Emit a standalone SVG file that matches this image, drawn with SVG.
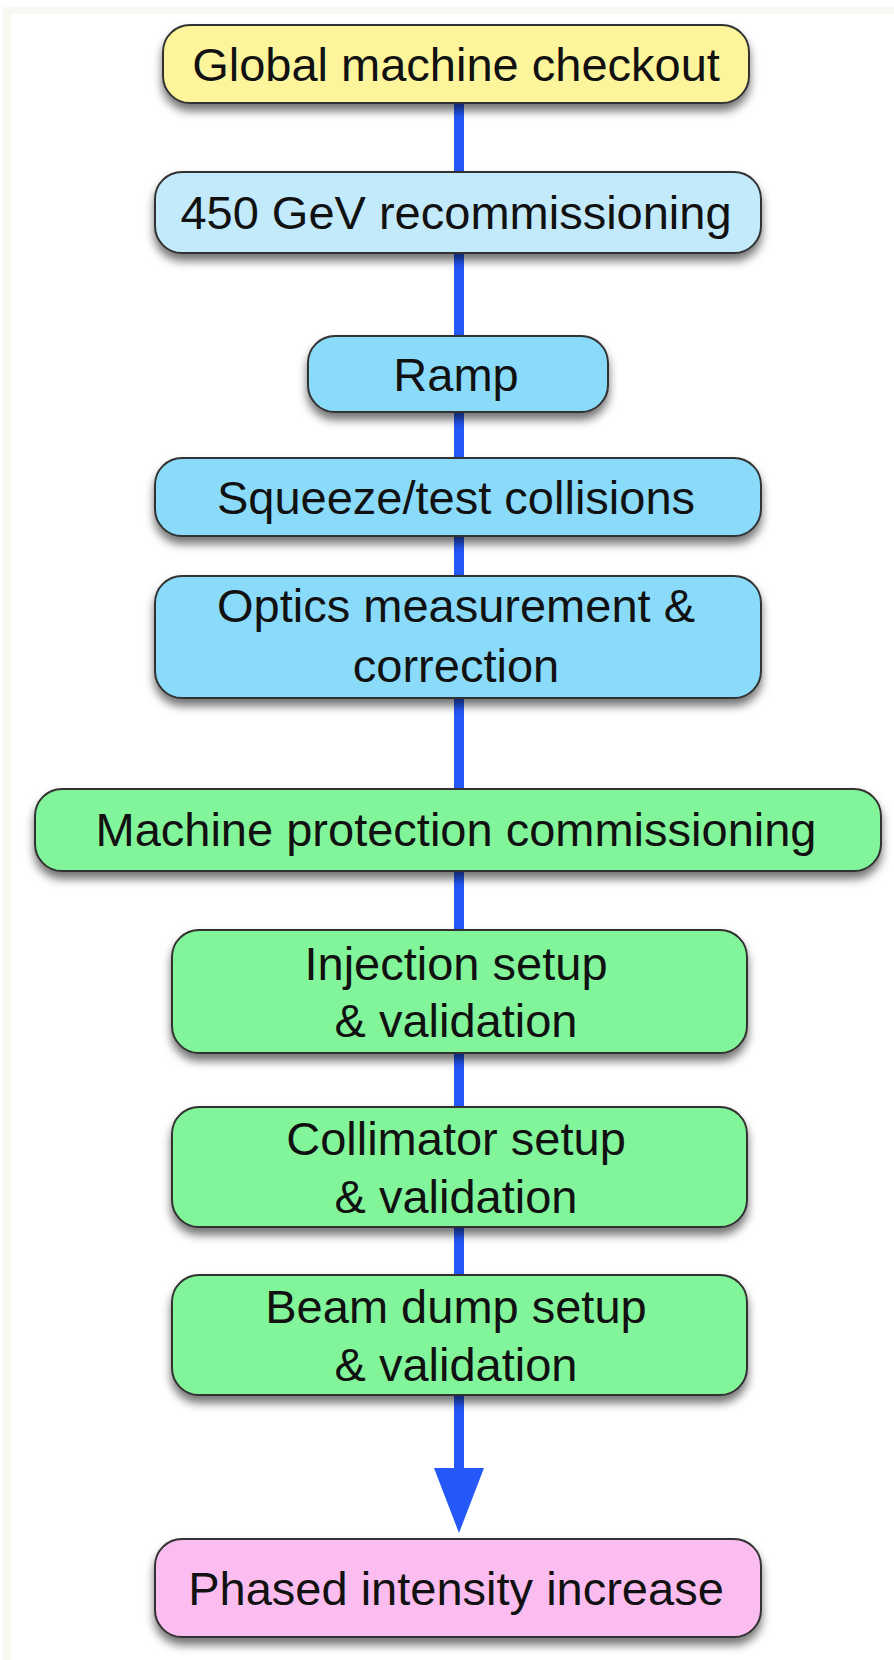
<svg xmlns="http://www.w3.org/2000/svg" width="894" height="1660" viewBox="0 0 894 1660">
<style>
.box{stroke:#333;stroke-width:2;filter:url(#sh)}
.t{font-family:"Liberation Sans",Arial,Helvetica,sans-serif;font-size:47px;fill:#111;text-anchor:middle}
.ln{stroke:#2458f8;stroke-width:10;fill:none}
.yel{fill:#fdf59c}
.lb{fill:#c2eafa}
.bl{fill:#8adbfa}
.gr{fill:#82f59a}
.pk{fill:#fbbdf0}
</style>
<defs>
<filter id="sh" x="-10%" y="-20%" width="120%" height="160%">
<feDropShadow dx="0" dy="7" stdDeviation="5" flood-color="#000" flood-opacity="0.55"/>
</filter>
<marker id="ah" markerUnits="userSpaceOnUse" markerWidth="52" markerHeight="66" refX="26" refY="64" orient="auto-start-reverse" viewBox="0 0 52 66">
<path d="M1,0 L51,0 L26,65 Z" fill="#2458f8"/>
</marker>
</defs>
<rect x="0" y="0" width="894" height="1660" fill="#ffffff"/>
<path d="M3,7 H894 V14 H11 V1660 H3 Z" fill="#f8f8f3"/>
<g id="connectors">
<line class="ln" x1="459" y1="103" x2="459" y2="172"/>
<line class="ln" x1="459" y1="253" x2="459" y2="336"/>
<line class="ln" x1="459" y1="412" x2="459" y2="458"/>
<line class="ln" x1="459" y1="536" x2="459" y2="576"/>
<line class="ln" x1="459" y1="698" x2="459" y2="789"/>
<line class="ln" x1="459" y1="871" x2="459" y2="930"/>
<line class="ln" x1="459" y1="1053" x2="459" y2="1107"/>
<line class="ln" x1="459" y1="1227" x2="459" y2="1275"/>
<path class="ln" d="M459,1395 V1472"/>
<path d="M434,1468 L484,1468 L459,1533 Z" fill="#2458f8"/>
</g>
<g id="n1"><rect class="box yel" x="163" y="25" width="586" height="78" rx="27"/><text class="t" x="456" y="81">Global machine checkout</text></g>
<g id="n2"><rect class="box lb" x="155" y="172" width="606" height="81" rx="27"/><text class="t" x="456" y="229">450 GeV recommissioning</text></g>
<g id="n3"><rect class="box bl" x="308" y="336" width="300" height="76" rx="27"/><text class="t" x="456" y="391">Ramp</text></g>
<g id="n4"><rect class="box bl" x="155" y="458" width="606" height="78" rx="27"/><text class="t" x="456" y="514">Squeeze/test collisions</text></g>
<g id="n5"><rect class="box bl" x="155" y="576" width="606" height="122" rx="27"/><text class="t" x="456" y="622">Optics measurement &amp;</text><text class="t" x="456" y="682">correction</text></g>
<g id="n6"><rect class="box gr" x="35" y="789" width="846" height="82" rx="27"/><text class="t" x="456" y="846">Machine protection commissioning</text></g>
<g id="n7"><rect class="box gr" x="172" y="930" width="575" height="123" rx="27"/><text class="t" x="456" y="980">Injection setup</text><text class="t" x="456" y="1037">&amp; validation</text></g>
<g id="n8"><rect class="box gr" x="172" y="1107" width="575" height="120" rx="27"/><text class="t" x="456" y="1155">Collimator setup</text><text class="t" x="456" y="1213">&amp; validation</text></g>
<g id="n9"><rect class="box gr" x="172" y="1275" width="575" height="120" rx="27"/><text class="t" x="456" y="1323">Beam dump setup</text><text class="t" x="456" y="1381">&amp; validation</text></g>
<g id="n10"><rect class="box pk" x="155" y="1539" width="606" height="98" rx="27"/><text class="t" x="456" y="1605">Phased intensity increase</text></g>
</svg>
